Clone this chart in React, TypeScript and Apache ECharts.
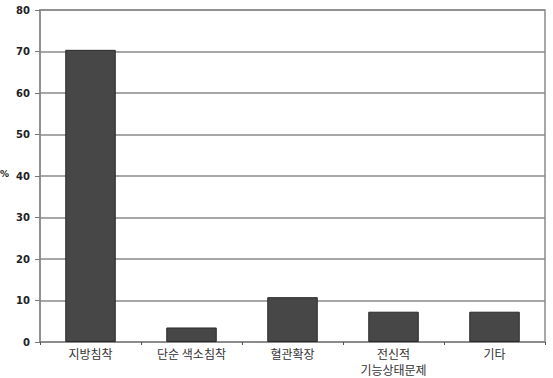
import React, { useEffect, useRef } from "react";
import * as echarts from "echarts";

const categories = ["지방침착", "단순 색소침착", "혈관확장", "전신적\n기능상태문제", "기타"];
const values = [70.4, 3.5, 10.8, 7.3, 7.3];
const yMin = 0;
const yMax = 80;
const yInterval = 10;

export default function App() {
  const ref = useRef<HTMLDivElement>(null);
  useEffect(() => {
    if (!ref.current) return;
    const chart = echarts.init(ref.current, null, { renderer: "svg" });
    chart.setOption({
      animation: false,
      backgroundColor: "#ffffff",
      grid: {
        left: 40,
        right: 8,
        top: 10,
        bottom: 36,
        show: true,
        borderColor: "#8a8a8a",
        borderWidth: 1.5,
        outerBoundsMode: "none",
        containLabel: false,
      },
      graphic: [
        {
          type: "text",
          left: 0,
          top: 169,
          style: { text: "%", fill: "#222", font: "bold 9px 'DejaVu Sans'" },
        },
      ],
      xAxis: {
        type: "category",
        data: categories,
        axisLine: { lineStyle: { color: "#8a8a8a", width: 1.5 } },
        axisTick: { show: true, length: 3, lineStyle: { color: "#555" } },
        axisLabel: {
          color: "#333",
          fontFamily: "'Noto Sans CJK KR'",
          fontSize: 12,
          lineHeight: 16,
          margin: 3,
        },
      },
      yAxis: {
        type: "value",
        min: yMin,
        max: yMax,
        interval: yInterval,
        axisLine: { show: true, lineStyle: { color: "#8a8a8a", width: 1.5 } },
        axisTick: { show: true, length: 5, lineStyle: { color: "#777" } },
        splitLine: { lineStyle: { color: "#8a8a8a", width: 1.5 } },
        axisLabel: {
          color: "#222",
          fontFamily: "'DejaVu Sans'",
          fontWeight: "bold",
          fontSize: 10,
          margin: 10,
        },
      },
      series: [
        {
          type: "bar",
          data: values,
          barWidth: "50%",
          itemStyle: { color: "#474747", borderColor: "#2a2a2a", borderWidth: 1 },
        },
      ],
    });
    return () => chart.dispose();
  }, []);
  return <div ref={ref} style={{ width: 553, height: 378, position: "absolute", left: 0, top: 0 }} />;
}
